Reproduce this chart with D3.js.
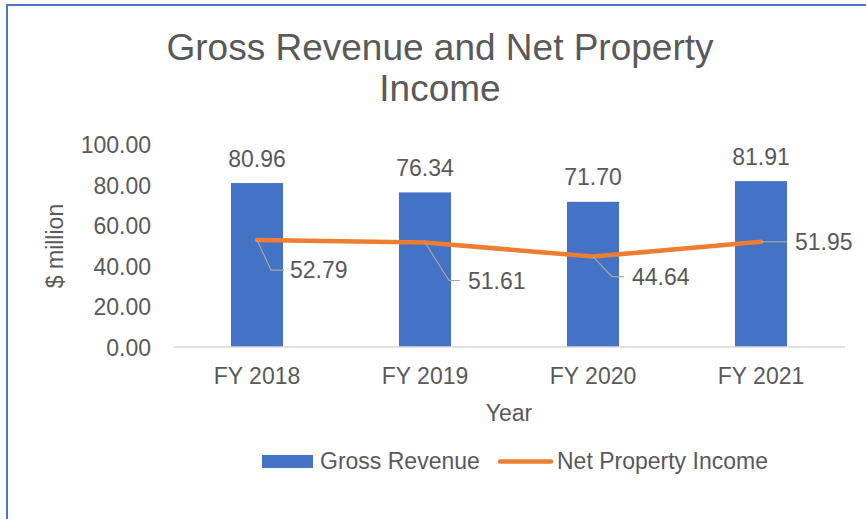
<!DOCTYPE html>
<html>
<head>
<meta charset="utf-8">
<script src="https://cdn.jsdelivr.net/npm/d3@7"></script>
<style>
  html, body { margin: 0; padding: 0; background: #fff; }
  svg { display: block; }
  text { font-family: Arial, "Liberation Sans", sans-serif; fill: #595959; }
</style>
</head>
<body>
<svg id="chart" width="866" height="519"></svg>
<script>
// ---- data ----
const categories = ["FY 2018", "FY 2019", "FY 2020", "FY 2021"];
const grossRevenue = [80.96, 76.34, 71.70, 81.91];
const netPropertyIncome = [52.79, 51.61, 44.64, 51.95];
const yTicks = [0, 20, 40, 60, 80, 100];
const seriesNames = ["Gross Revenue", "Net Property Income"];
const titleLines = ["Gross Revenue and Net Property", "Income"];
const yAxisTitle = "$ million";
const xAxisTitle = "Year";

// ---- layout (styling only) ----
const W = 866, H = 519;
const plot = { left: 173, right: 845, top: 144.5, bottom: 347 };
const blue = "#4472C4", orange = "#ED7D31", textCol = "#595959";
const fs = 23;
// manual label offsets for line data labels (label start dx, dy; leader elbow dx; leader end dx)
const lineLabelOffsets = [
  { lx: 33, ly: 30, ex: 14, hx: 27 },
  { lx: 43, ly: 38, ex: 24, hx: 35 },
  { lx: 39, ly: 20, ex: 19, hx: 31 },
  { lx: 34, ly: 0,  ex: 0,  hx: 26 }
];

const svg = d3.select("#chart");

// chart border (extends past the image at right/bottom)
svg.append("rect")
  .attr("x", 7).attr("y", 5).attr("width", W + 40).attr("height", H + 40)
  .attr("fill", "none").attr("stroke", "#4a76c9").attr("stroke-width", 2);

// title
svg.append("text")
  .attr("x", 440).attr("y", 60)
  .attr("text-anchor", "middle")
  .style("font-size", "37px")
  .text(titleLines[0]);
svg.append("text")
  .attr("x", 440).attr("y", 101)
  .attr("text-anchor", "middle")
  .style("font-size", "37px")
  .text(titleLines[1]);

// scales
const x = d3.scaleBand().domain(categories).range([plot.left, plot.right]).paddingInner(0.69).paddingOuter(0.345);
const y = d3.scaleLinear().domain([0, 100]).range([plot.bottom, plot.top]);
const xc = d => x(d) + x.bandwidth() / 2;

// y axis (labels only)
const yAxis = d3.axisLeft(y).tickValues(yTicks).tickFormat(d3.format(".2f")).tickSize(0).tickPadding(0);
const gy = svg.append("g").attr("transform", `translate(${plot.left - 22},0)`).call(yAxis);
gy.select(".domain").remove();
gy.selectAll("text").style("font-size", fs + "px").attr("fill", textCol).attr("font-family", null).attr("dy", "0.35em");

// bars
svg.append("g").selectAll("rect")
  .data(grossRevenue)
  .join("rect")
  .attr("x", (d, i) => x(categories[i]))
  .attr("y", d => y(d))
  .attr("width", x.bandwidth())
  .attr("height", d => y(0) - y(d))
  .attr("fill", blue);

// x axis
const xAxis = d3.axisBottom(x).tickSize(0).tickPadding(0);
const gx = svg.append("g").attr("transform", `translate(0,${plot.bottom})`).call(xAxis);
gx.select(".domain").attr("stroke", "#d9d9d9").attr("stroke-width", 1.5)
  .attr("d", `M${plot.left},0H${plot.right}`);
gx.selectAll("text").style("font-size", fs + "px").attr("fill", textCol).attr("font-family", null)
  .attr("y", 37).attr("dy", 0);

// bar labels
svg.append("g").selectAll("text")
  .data(grossRevenue)
  .join("text")
  .attr("x", (d, i) => xc(categories[i]))
  .attr("y", d => y(d) - 16.5)
  .attr("text-anchor", "middle")
  .style("font-size", fs + "px")
  .text(d => d3.format(".2f")(d));

// line
const line = d3.line().x((d, i) => xc(categories[i])).y(d => y(d));
svg.append("path")
  .datum(netPropertyIncome)
  .attr("d", line)
  .attr("fill", "none")
  .attr("stroke", orange)
  .attr("stroke-width", 4.5)
  .attr("stroke-linejoin", "round")
  .attr("stroke-linecap", "round");

// leader lines + line labels
const gl = svg.append("g");
netPropertyIncome.forEach((v, i) => {
  const px = xc(categories[i]), py = y(v), o = lineLabelOffsets[i];
  gl.append("path")
    .attr("d", `M${px},${py}L${px + o.ex},${py + o.ly}H${px + o.hx}`)
    .attr("fill", "none").attr("stroke", "#a6a6a6").attr("stroke-width", 1.2);
  gl.append("text")
    .attr("x", px + o.lx).attr("y", py + o.ly)
    .attr("dy", "0.35em")
    .style("font-size", fs + "px")
    .text(d3.format(".2f")(v));
});

// axis titles
svg.append("text")
  .attr("x", (plot.left + plot.right) / 2).attr("y", 421)
  .attr("text-anchor", "middle")
  .style("font-size", fs + "px")
  .text(xAxisTitle);
svg.append("text")
  .attr("transform", "translate(63,246) rotate(-90)")
  .attr("text-anchor", "middle")
  .style("font-size", fs + "px")
  .text(yAxisTitle);

// legend
const lg = svg.append("g");
lg.append("rect").attr("x", 262).attr("y", 455).attr("width", 51).attr("height", 13).attr("fill", blue);
lg.append("text").attr("x", 320).attr("y", 468.5).style("font-size", fs + "px").text(seriesNames[0]);
lg.append("line").attr("x1", 500).attr("x2", 551).attr("y1", 461.5).attr("y2", 461.5)
  .attr("stroke", orange).attr("stroke-width", 4.5).attr("stroke-linecap", "round");
lg.append("text").attr("x", 557).attr("y", 468.5).style("font-size", fs + "px").text(seriesNames[1]);
</script>
</body>
</html>
